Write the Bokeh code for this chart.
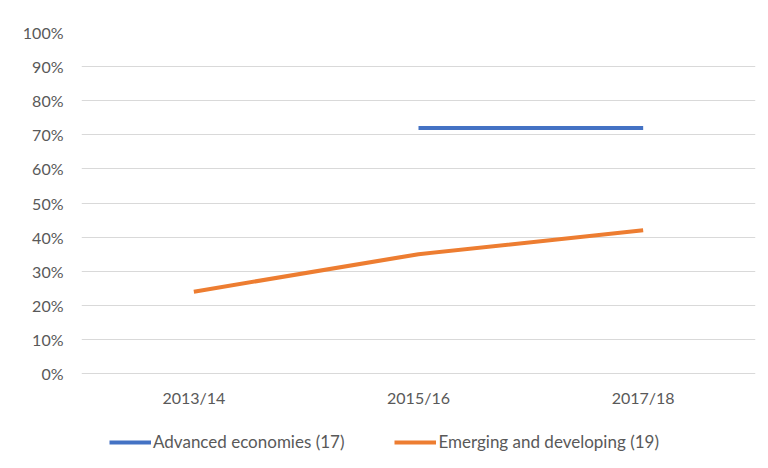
from bokeh.plotting import figure
from bokeh.models import Legend, LegendItem, NumeralTickFormatter, FixedTicker, Range1d
from bokeh.core.properties import value
from bokeh.embed import file_html
from bokeh.resources import INLINE

categories = ["2013/14", "2015/16", "2017/18"]
adv_x = ["2015/16", "2017/18"]
adv_y = [0.72, 0.72]
emd_x = ["2013/14", "2015/16", "2017/18"]
emd_y = [0.24, 0.35, 0.42]
series_names = ["Advanced economies (17)", "Emerging and developing (19)"]
y_ticks = [0, 0.1, 0.2, 0.3, 0.4, 0.5, 0.6, 0.7, 0.8, 0.9, 1.0]

FONT = "Lato"
TXT = "#595959"

# frame extends below 0 so the category labels and legend sit inside it
p = figure(x_range=categories, y_range=Range1d(-0.2551, 1),
           width=760, height=460, frame_width=674, frame_height=428,
           output_backend="svg", toolbar_location=None,
           min_border_left=81, min_border_right=5, min_border_top=32, min_border_bottom=0)
p.outline_line_color = None
p.background_fill_color = "white"
p.border_fill_color = "white"

l1 = p.line(adv_x, adv_y, line_color="#4472C4", line_width=4)
l2 = p.line(emd_x, emd_y, line_color="#ED7D31", line_width=4)

# category labels under the 0% line
p.text(x=categories, y=[-0.0704] * len(categories), text=categories,
       text_align="center", text_baseline="middle",
       text_font=value(FONT), text_font_size="16px", text_color=TXT)

p.xaxis.visible = False
p.yaxis.ticker = FixedTicker(ticks=y_ticks)
p.yaxis.formatter = NumeralTickFormatter(format="0%")
ax = p.yaxis[0]
ax.axis_line_color = None
ax.major_tick_line_color = None
ax.minor_tick_line_color = None
ax.major_tick_out = 0
ax.major_tick_in = 0
ax.minor_tick_out = 0
ax.major_label_text_font = FONT
ax.major_label_text_font_size = "16px"
ax.major_label_text_color = TXT
ax.major_label_standoff = 18
p.xgrid.grid_line_color = None
p.ygrid.grid_line_color = "#d9d9d9"
p.ygrid.grid_line_width = 1

legend = Legend(items=[LegendItem(label=series_names[0], renderers=[l1]),
                       LegendItem(label=series_names[1], renderers=[l2])],
                orientation="horizontal", location=(28, 8),
                border_line_color=None, background_fill_alpha=0,
                label_text_font=FONT, label_text_font_size="17px",
                label_text_color=TXT, glyph_width=42, label_standoff=2,
                spacing=50, margin=0, padding=4)
p.add_layout(legend)

open("out.html", "w").write(file_html(p, INLINE))
